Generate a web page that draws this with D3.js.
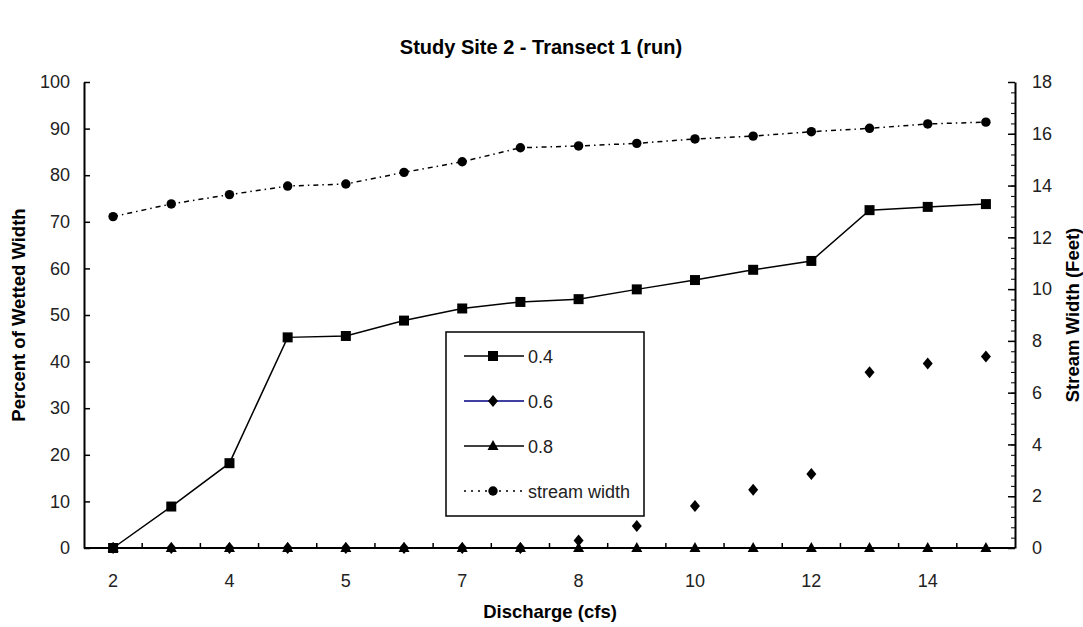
<!DOCTYPE html>
<html>
<head>
<meta charset="utf-8">
<script src="https://cdn.jsdelivr.net/npm/d3@7"></script>
<style>
  html, body { margin: 0; padding: 0; background: #fff; }
  svg { display: block; font-family: Arial, "Liberation Sans", sans-serif; }
</style>
</head>
<body>
<svg id="chart" width="1083" height="627"></svg>
<script>
// Discharge categories (one band each); only every other band is labelled
const categories = ["2", "", "4", "", "5", "", "7", "", "8", "", "10", "", "12", "", "14", ""];

// Percent of wetted width meeting each depth criterion
const depth04 = [0, 8.9, 18.2, 45.2, 45.5, 48.8, 51.4, 52.8, 53.4, 55.5, 57.5, 59.7, 61.6, 72.5, 73.2, 73.8];
const depth06 = [0, 0, 0, 0, 0, 0, 0, 0, 1.6, 4.7, 9.0, 12.5, 15.9, 37.7, 39.6, 41.1];
const depth08 = [0, 0, 0, 0, 0, 0, 0, 0, 0, 0, 0, 0, 0, 0, 0, 0];

// Stream width in feet (right axis)
const streamWidth = [12.8, 13.29, 13.65, 13.98, 14.06, 14.51, 14.92, 15.46, 15.53, 15.63, 15.8, 15.91, 16.08, 16.21, 16.38, 16.45];

const leftTicks = [0, 10, 20, 30, 40, 50, 60, 70, 80, 90, 100];
const rightTicks = [0, 2, 4, 6, 8, 10, 12, 14, 16, 18];

const svg = d3.select("#chart");
const margin = { left: 84, right: 1015, top: 82, bottom: 548 };

const x = d3.scaleBand().domain(d3.range(categories.length)).range([margin.left, margin.right]).padding(0);
const cx = i => x(i) + x.bandwidth() / 2;
const yL = d3.scaleLinear().domain([0, 100]).range([margin.bottom, margin.top]);
const yR = d3.scaleLinear().domain([0, 18]).range([margin.bottom, margin.top]);

const fontSize = 18;
const titleSize = 18.5;

// Title
svg.append("text").attr("x", 541).attr("y", 54).attr("text-anchor", "middle")
  .attr("font-weight", "bold").attr("font-size", 20).text("Study Site 2 - Transect 1 (run)");

// Left axis
const gL = svg.append("g").attr("transform", `translate(${margin.left},0)`)
  .call(d3.axisLeft(yL).tickValues(leftTicks).tickSizeInner(-6).tickSizeOuter(0).tickPadding(14));
// Right axis with minor ticks
const minorR = d3.range(0, 18.01, 0.4).map(v => +v.toFixed(1));
svg.append("g").attr("transform", `translate(${margin.right},0)`)
  .call(d3.axisRight(yR).tickValues(minorR).tickSize(-4).tickFormat(""))
  .call(g => g.select(".domain").remove());
const gR = svg.append("g").attr("transform", `translate(${margin.right},0)`)
  .call(d3.axisRight(yR).tickValues(rightTicks).tickSizeInner(-7).tickSizeOuter(0).tickPadding(17));

// Bottom axis: tick marks at band boundaries, labels at band centres
const gB = svg.append("g").attr("transform", `translate(0,${margin.bottom})`);
gB.append("line").attr("x1", margin.left).attr("x2", margin.right).attr("y1", 0).attr("y2", 0)
  .attr("stroke", "#000").attr("stroke-width", 2);
gB.selectAll("line.tick").data(d3.range(1, categories.length)).join("line")
  .attr("class", "tick").attr("x1", i => x(i)).attr("x2", i => x(i))
  .attr("y1", 0).attr("y2", -5).attr("stroke", "#000").attr("stroke-width", 1.5);
gB.selectAll("text").data(categories.map((c, i) => ({ c, i })).filter(d => d.c !== "")).join("text")
  .attr("x", d => cx(d.i)).attr("y", 39).attr("text-anchor", "middle")
  .attr("font-size", fontSize).attr("fill", "#222").text(d => d.c);

[gL, gR].forEach(g => {
  g.selectAll("text").attr("font-size", fontSize).attr("fill", "#222").attr("font-family", "Arial, 'Liberation Sans', sans-serif");
  g.select(".domain").attr("stroke-width", 2);
  g.selectAll(".tick line").attr("stroke-width", 1.5);
});
svg.selectAll("g line").attr("stroke", "#000");

// Axis titles
svg.append("text").attr("x", 550).attr("y", 618).attr("text-anchor", "middle")
  .attr("font-weight", "bold").attr("font-size", titleSize).text("Discharge (cfs)");
svg.append("text").attr("transform", "translate(25,315) rotate(-90)").attr("text-anchor", "middle")
  .attr("font-weight", "bold").attr("font-size", titleSize).text("Percent of Wetted Width");
svg.append("text").attr("transform", "translate(1079,315) rotate(-90)").attr("text-anchor", "middle")
  .attr("font-weight", "bold").attr("font-size", titleSize).text("Stream Width (Feet)");

// Marker shapes
const sym = {
  square: d3.symbol().type(d3.symbolSquare).size(100)(),
  triangle: "M0,-6L5.5,4L-5.5,4Z",
  circle: d3.symbol().type(d3.symbolCircle).size(70)()
};
const diamondPath = "M0,-6L5,0L0,6L-5,0Z";

const plot = svg.append("g");

// Stream width (dash-dot line, right axis)
plot.append("path").datum(streamWidth)
  .attr("d", d3.line().x((d, i) => cx(i)).y(d => yR(d)))
  .attr("fill", "none").attr("stroke", "#000").attr("stroke-width", 1.5)
  .attr("stroke-dasharray", "5,4,1.5,4");
plot.selectAll("path.sw").data(streamWidth).join("path").attr("class", "sw")
  .attr("transform", (d, i) => `translate(${cx(i)},${yR(d)})`).attr("d", sym.circle).attr("fill", "#000");

// 0.8 ft (triangles on solid line)
plot.append("path").datum(depth08)
  .attr("d", d3.line().x((d, i) => cx(i)).y(d => yL(d)))
  .attr("fill", "none").attr("stroke", "#000").attr("stroke-width", 1.5);

// 0.6 ft (diamond markers only)
plot.selectAll("path.d6").data(depth06).join("path").attr("class", "d6")
  .attr("transform", (d, i) => `translate(${cx(i)},${yL(d)})`).attr("d", diamondPath).attr("fill", "#000");

plot.selectAll("path.d8").data(depth08).join("path").attr("class", "d8")
  .attr("transform", (d, i) => `translate(${cx(i)},${yL(d)})`).attr("d", sym.triangle).attr("fill", "#000");

// 0.4 ft (squares on solid line)
plot.append("path").datum(depth04)
  .attr("d", d3.line().x((d, i) => cx(i)).y(d => yL(d)))
  .attr("fill", "none").attr("stroke", "#000").attr("stroke-width", 1.5);
plot.selectAll("path.d4").data(depth04).join("path").attr("class", "d4")
  .attr("transform", (d, i) => `translate(${cx(i)},${yL(d)})`).attr("d", sym.square).attr("fill", "#000");

// Legend
const legend = svg.append("g");
legend.append("rect").attr("x", 446).attr("y", 332).attr("width", 198).attr("height", 184)
  .attr("fill", "#fff").attr("stroke", "#000").attr("stroke-width", 1.5);
const entries = [
  { label: "0.4", stroke: "#000", dash: null, shape: sym.square, y: 356 },
  { label: "0.6", stroke: "#000080", dash: null, shape: diamondPath, y: 401 },
  { label: "0.8", stroke: "#000", dash: null, shape: sym.triangle, y: 446 },
  { label: "stream width", stroke: "#000", dash: "2,5", shape: sym.circle, y: 491 }
];
entries.forEach(e => {
  legend.append("line").attr("x1", 464).attr("x2", 524).attr("y1", e.y).attr("y2", e.y)
    .attr("stroke", e.stroke).attr("stroke-width", 1.5).attr("stroke-dasharray", e.dash);
  legend.append("path").attr("transform", `translate(493,${e.y})`).attr("d", e.shape).attr("fill", "#000");
  legend.append("text").attr("x", 528).attr("y", e.y + 6.5).attr("font-size", fontSize)
    .attr("fill", "#222").text(e.label);
});
</script>
</body>
</html>
